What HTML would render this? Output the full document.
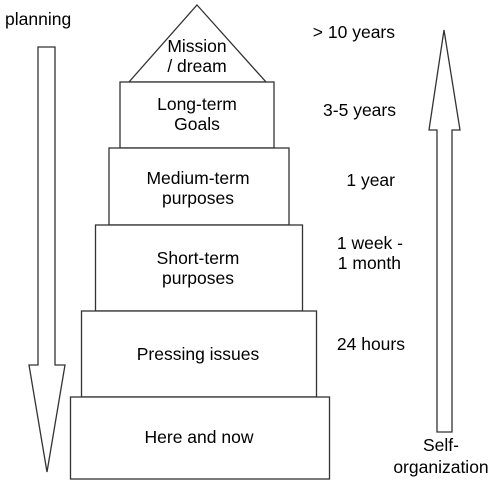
<!DOCTYPE html>
<html><head><style>body{margin:0;background:#fff}svg{display:block}</style></head>
<body>
<svg width="495" height="489" viewBox="0 0 495 489" xmlns="http://www.w3.org/2000/svg" font-family="Liberation Sans, sans-serif" font-size="17.5" fill="#000">
<g fill="#fff" stroke="#333" stroke-width="1.3">
<polygon points="197,5 266,82 129,82"/>
<rect x="120" y="82" width="154" height="66"/>
<rect x="109" y="148" width="180" height="77"/>
<rect x="95.5" y="225" width="207" height="86"/>
<rect x="81.5" y="311" width="235" height="86"/>
<rect x="70.5" y="397" width="259" height="82"/>
<polygon points="38,47 55,47 55,365 65,365 47,472 29,365 38,365"/>
<polygon points="437,432 452,432 452,130 460,130 444,30 429,130 437,130"/>
</g>
<g text-anchor="middle">
<text x="197" y="52">Mission</text><text x="197" y="72">/ dream</text>
<text x="197" y="110">Long-term</text><text x="197" y="130">Goals</text>
<text x="198" y="184">Medium-term</text><text x="198" y="204">purposes</text>
<text x="198" y="264">Short-term</text><text x="198" y="284">purposes</text>
<text x="198" y="360">Pressing issues</text>
<text x="199" y="443">Here and now</text>
<text x="441" y="451">Self-</text><text x="441" y="473">organization</text>
</g>
<text x="5" y="25">planning</text>
<g text-anchor="end">
<text x="395" y="38">&gt; 10 years</text>
<text x="396" y="116">3-5 years</text>
<text x="395" y="186">1 year</text>
<text x="403" y="249">1 week -</text>
<text x="401" y="269">1 month</text>
<text x="405" y="350">24 hours</text>
</g>
</svg>
</body></html>
